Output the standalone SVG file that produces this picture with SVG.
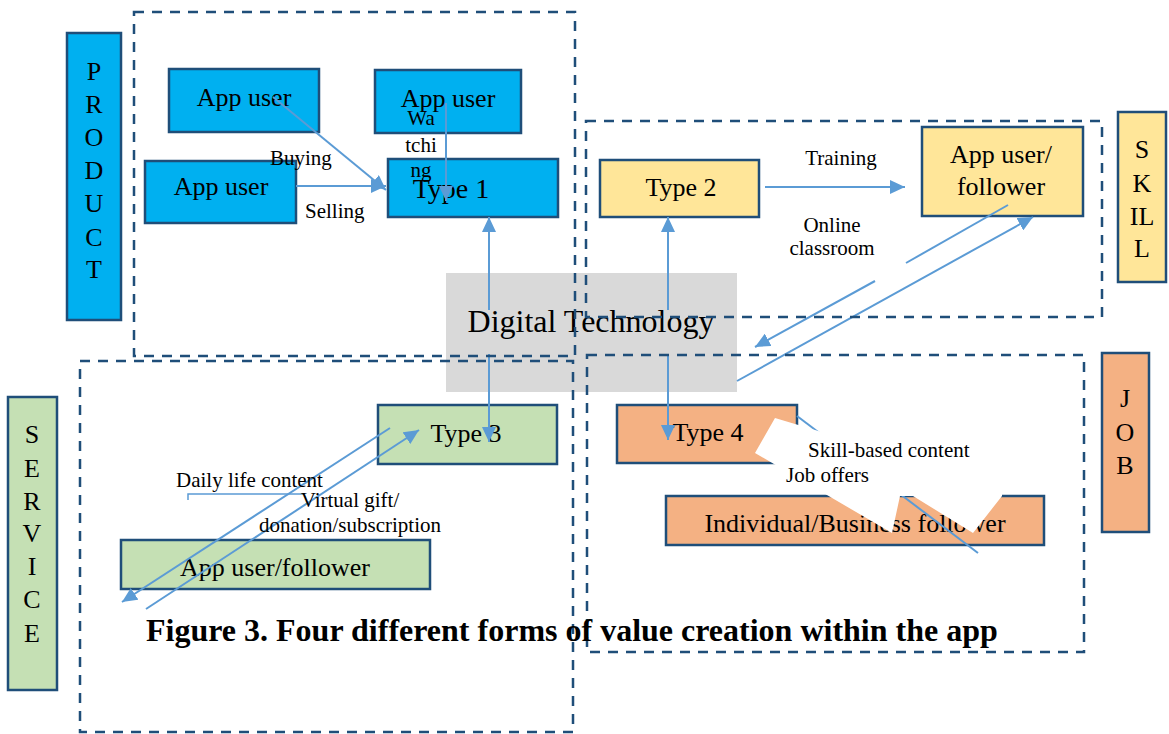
<svg xmlns="http://www.w3.org/2000/svg" width="1169" height="734" viewBox="0 0 1169 734">
<defs>
<marker id="ah" viewBox="0 0 15 14" refX="15" refY="7" markerWidth="15" markerHeight="14" markerUnits="userSpaceOnUse" orient="auto">
<path d="M0,0 L15,7 L0,14 z" fill="#5B9BD5"/>
</marker>
<style>
.nb{stroke:#1F4E79;stroke-width:2.5}
.blue{fill:#00B0F0}
.yel{fill:#FFE699}
.grn{fill:#C5E0B4}
.org{fill:#F4B183}
.t{font-family:"Liberation Serif","Times New Roman",serif;fill:#000}
.n26{font-size:26px;text-anchor:middle}
.v{font-size:26px;text-anchor:middle}
.lab{font-size:21px}
.c{fill:none;stroke:#5B9BD5;stroke-width:2}
.ca{fill:none;stroke:#5B9BD5;stroke-width:2;marker-end:url(#ah)}
.dash{fill:none;stroke:#1F4E79;stroke-width:2.5;stroke-dasharray:10 8}
</style>
</defs>
<rect width="1169" height="734" fill="#fff"/>

<g id="digital-technology">
<rect x="446" y="273" width="291" height="119" fill="#D9D9D9"/>
<text class="t" x="591" y="332" font-size="32" text-anchor="middle">Digital Technology</text>
</g>

<g id="product-label">
<rect class="nb blue" x="67" y="33" width="54" height="287"/>
<text class="t v" x="94" y="80">P</text>
<text class="t v" x="94" y="113">R</text>
<text class="t v" x="94" y="146">O</text>
<text class="t v" x="94" y="179">D</text>
<text class="t v" x="94" y="212">U</text>
<text class="t v" x="94" y="246">C</text>
<text class="t v" x="94" y="278">T</text>
</g>
<g id="skill-label">
<rect class="nb yel" x="1118" y="112" width="48" height="170"/>
<text class="t v" x="1142" y="158">S</text>
<text class="t v" x="1142" y="192">K</text>
<text class="t v" x="1142" y="225">IL</text>
<text class="t v" x="1142" y="257">L</text>
</g>
<g id="job-label">
<rect class="nb org" x="1102" y="353" width="47" height="179"/>
<text class="t v" x="1125" y="407">J</text>
<text class="t v" x="1125" y="441">O</text>
<text class="t v" x="1125" y="474">B</text>
</g>
<g id="service-label">
<rect class="nb grn" x="8" y="397" width="49" height="293"/>
<text class="t v" x="32" y="443">S</text>
<text class="t v" x="32" y="477">E</text>
<text class="t v" x="32" y="510">R</text>
<text class="t v" x="32" y="542">V</text>
<text class="t v" x="32" y="575">I</text>
<text class="t v" x="32" y="608">C</text>
<text class="t v" x="32" y="642">E</text>
</g>

<g id="app-user-buyer">
<rect class="nb blue" x="169" y="69" width="150" height="63"/>
<text class="t n26" x="244" y="106">App user</text>
</g>
<g id="app-user-watcher">
<rect class="nb blue" x="375" y="70" width="146" height="63"/>
<text class="t n26" x="448" y="107">App user</text>
</g>
<g id="app-user-seller">
<rect class="nb blue" x="145" y="161" width="151" height="62"/>
<text class="t n26" x="221" y="195">App user</text>
</g>
<g id="type1">
<rect class="nb blue" x="388" y="159" width="170" height="58"/>
<text class="t" x="451" y="198" font-size="28" text-anchor="middle">Type 1</text>
</g>
<g id="type2">
<rect class="nb yel" x="600" y="160" width="159" height="57"/>
<text class="t n26" x="681" y="196">Type 2</text>
</g>
<g id="skill-follower">
<rect class="nb yel" x="922" y="127" width="161" height="89"/>
<text class="t n26" x="1001" y="163">App user/</text>
<text class="t n26" x="1001" y="195">follower</text>
</g>
<g id="type3">
<rect class="nb grn" x="378" y="405" width="179" height="59"/>
<text class="t n26" x="466" y="442">Type 3</text>
</g>
<g id="service-follower">
<rect class="nb grn" x="121" y="540" width="309" height="49"/>
<text class="t n26" x="275" y="576">App user/follower</text>
</g>
<g id="type4">
<rect class="nb org" x="617" y="405" width="180" height="58"/>
<text class="t n26" x="708" y="441">Type 4</text>
</g>
<g id="job-follower">
<rect class="nb org" x="666" y="496" width="378" height="49"/>
<text class="t n26" x="855" y="532">Individual/Business follower</text>
</g>

<g id="connectors">
<path class="ca" d="M273,97 L386,190"/>
<path class="ca" d="M296,186 L386,186"/>
<path class="ca" d="M446,103 L446,201"/>
<path class="ca" d="M489,310 L489,217"/>
<path class="ca" d="M489,354 L489,442"/>
<path class="ca" d="M668,310 L668,217"/>
<path class="ca" d="M668,354 L668,440"/>
<path class="ca" d="M765,187 L905,187"/>
<path class="c" d="M1008,205 L906,263"/>
<path class="ca" d="M875,281 L755,347"/>
<path class="ca" d="M737,381 L1033,217"/>
<path class="ca" d="M390,428 L122,602"/>
<path class="ca" d="M146,609 L419,430"/>
<path class="c" d="M797,416 L978,553"/>
<path fill="none" stroke="#5B9BD5" stroke-width="1.5" d="M188,500 L188,494 L304,494"/>
</g>

<polygon id="white-zigzag" fill="#fff" points="775,418 835,436 1002,440 1002,496 973,533 913,496 900,496 892,533 755,453"/>

<g id="labels">
<text class="t lab" x="270" y="165">Buying</text>
<text class="t lab" x="305" y="218">Selling</text>
<text class="t lab" x="421" y="125" text-anchor="middle">Wa</text>
<text class="t lab" x="421" y="152" text-anchor="middle">tchi</text>
<text class="t lab" x="421" y="177" text-anchor="middle">ng</text>
<text class="t lab" x="841" y="165" text-anchor="middle">Training</text>
<text class="t lab" x="832" y="232" text-anchor="middle">Online</text>
<text class="t lab" x="832" y="255" text-anchor="middle">classroom</text>
<text class="t lab" x="176" y="487">Daily life content</text>
<text class="t lab" x="350" y="507" text-anchor="middle">Virtual gift/</text>
<text class="t lab" x="350" y="532" text-anchor="middle">donation/subscription</text>
<text class="t lab" x="808" y="457">Skill-based content</text>
<text class="t lab" x="786" y="482">Job offers</text>
</g>

<g id="groups">
<rect class="dash" x="134" y="12" width="441" height="344"/>
<rect class="dash" x="586" y="121" width="516" height="196"/>
<rect class="dash" x="80" y="361" width="493" height="371"/>
<rect class="dash" x="587" y="355" width="497" height="297"/>
</g>

<text id="caption" class="t" x="146" y="641" font-size="32" font-weight="bold">Figure 3. Four different forms of value creation within the app</text>
</svg>
